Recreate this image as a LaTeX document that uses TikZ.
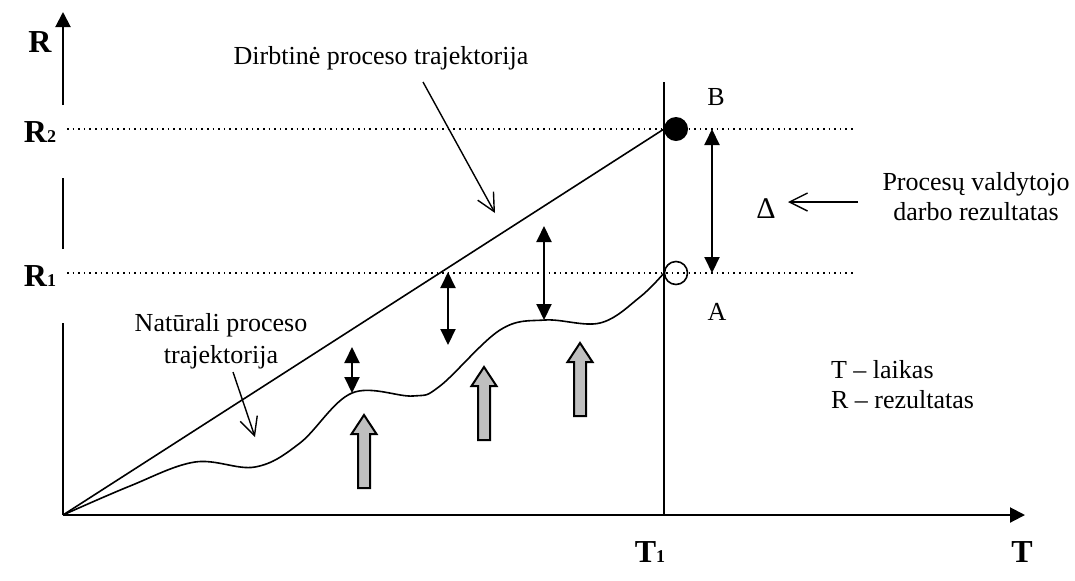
\documentclass[tikz,border=0pt]{standalone}
\usepackage{fontspec}
\setmainfont{Liberation Serif}
\usetikzlibrary{arrows.meta, calc}

\begin{document}
\begin{tikzpicture}[x=0.5pt,y=-0.5pt,font=\fontsize{13}{15}\selectfont,
  axis/.style={line width=1pt,-{Triangle[length=7.5pt,width=7.5pt]}},
  level/.style={dotted,line width=0.8pt},
  gap/.style={line width=1pt,{Triangle[length=8pt,width=7.5pt]}-{Triangle[length=8pt,width=7.5pt]}},
  pointer/.style={line width=0.7pt,-{Straight Barb[length=9pt,width=9pt]}},
  big/.style={font=\fontsize{16}{18}\bfseries\selectfont}]

\useasboundingbox (0,0) rectangle (1075,580);

% --- Assi
\coordinate (O) at (63,515);
\draw[line width=1pt] (O) -- (63,323);
\draw[line width=1pt] (63,249) -- (63,178);
\draw[axis] (63,105) -- (63,12);
\draw[axis] (O) -- (1025,515);
\draw[line width=0.8pt] (664,515) -- (664,82);

\node[big] (lblR) at (40,42) {R};
\node[big] (lblRtwo) at (40,132) {R{\fontsize{9}{10}\selectfont 2}};
\node[big] (lblRone) at (40,276) {R{\fontsize{9}{10}\selectfont 1}};
\node[big] (lblTone) at (650,552) {T{\fontsize{9}{10}\selectfont 1}};
\node[big] (lblT) at (1022,552) {T};

% --- Livelli R1, R2
\draw[level] (67,129) -- (855,129);
\draw[level] (67,273) -- (855,273);

% --- Punti B e A
\node[circle,fill=black,inner sep=0pt,minimum size=12pt] (B) at (676,129) {};
\node[circle,draw,line width=0.8pt,inner sep=0pt,minimum size=11.5pt] (A) at (676,273) {};
\node (lblB) at (716,97) {B};
\node (lblA) at (717,312) {A};

% --- Traiettoria artificiale
\draw[line width=0.8pt] (O) -- (664,129);

% --- Traiettoria naturale
\draw[line width=0.8pt] plot[smooth,tension=0.6] coordinates {
  (63,515) (130,486) (195,462) (255,467) (300,443) (352,393) (413,396)
  (440,386) (500,330) (545,320) (600,323) (640,297) (664,273)};

% --- Differenze
\draw[gap] (352,347) -- (352,393);
\draw[gap] (448,272) -- (448,345);
\draw[gap] (544,226) -- (544,320);
\draw[gap] (712,129) -- (712,273);

% --- Frecce grigie
\newcommand{\pusharrow}[3]{%
  \draw[line width=1pt,fill=black!25]
    ({#1-6},#2) -- ({#1+6},#2) -- ({#1+6},{#3+19}) -- ({#1+12.5},{#3+19})
    -- (#1,#3) -- ({#1-12.5},{#3+19}) -- ({#1-6},{#3+19}) -- cycle;
}
\pusharrow{364}{488}{415}
\pusharrow{484}{440}{367}
\pusharrow{580}{416}{343}

% --- Etichette
\node (artif) at (381,58) {Dirbtinė proceso trajektorija};
\coordinate (artiftip) at (495,213);
\draw[pointer] (423,82) -- (artiftip);

\node[align=center,font=\fontsize{13}{16}\selectfont] (natur) at (221,341) {Natūrali proceso\\trajektorija};
\coordinate (naturtip) at (255,437);
\draw[pointer] (233,372) -- (naturtip);

\node[font=\fontsize{15}{16}\selectfont] (delta) at (766,209) {Δ};
\coordinate (deltatip) at (788,202);
\node[align=center] (result) at (976,197) {Procesų valdytojo\\darbo rezultatas};
\draw[pointer] (858,202) -- (deltatip);

\node[align=left,anchor=west] (legend) at (824,385) {T – laikas\\R – rezultatas};

\end{tikzpicture}
\end{document}
